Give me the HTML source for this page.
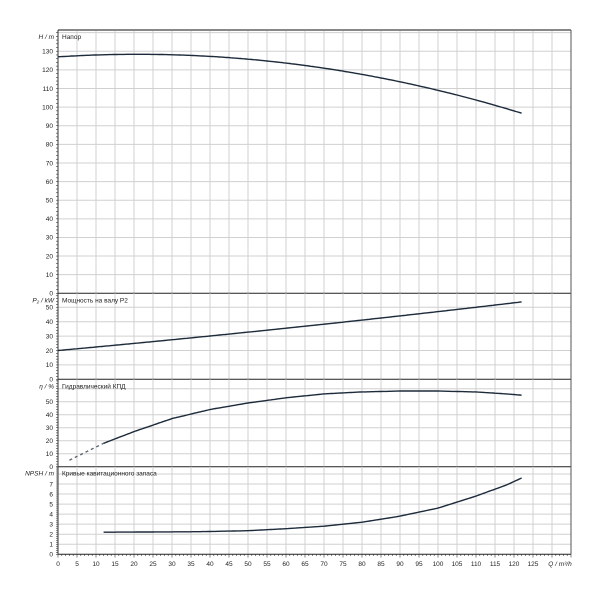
<!DOCTYPE html>
<html><head><meta charset="utf-8"><style>
body{margin:0;background:#fff;width:600px;height:600px;overflow:hidden}
svg text{font-family:"Liberation Sans",sans-serif;font-size:6.5px;fill:#222}
</style></head><body>
<svg id="s" width="600" height="600" xmlns="http://www.w3.org/2000/svg"></svg>
<script>
const s=document.getElementById('s');let h='';
const X0=58,XR=571,kx=3.8;const X=q=>X0+q*kx;
const panels=[
 {top:30,bot:293.3,k:1.862,step:10,max:130,lab:'H / m',title:'Напор'},
 {top:293.3,bot:379.3,k:1.44,step:10,max:50,lab:'P\u2082 / kW',title:'Мощность на валу P2'},
 {top:379.3,bot:466.7,k:1.3,step:10,max:50,lab:'η / %',title:'Гидравлический КПД'},
 {top:466.7,bot:554.3,k:10.04,step:1,max:7,lab:'NPSH / m',title:'Кривые кавитационного запаса'}];
for(const p of panels){
 for(let q=5;q<=135;q+=5){h+=`<line x1="${X(q)}" y1="${p.top}" x2="${X(q)}" y2="${p.bot}" stroke="#d0d0d0" stroke-width="1"/>`;}
 for(let v=p.step;v*p.k<p.bot-p.top-1;v+=p.step){const y=p.bot-v*p.k;h+=`<line x1="${X0}" y1="${y}" x2="${XR}" y2="${y}" stroke="#d0d0d0"/>`;}
 for(let v=0;v<=p.max;v+=p.step){const y=p.bot-v*p.k;h+=`<text x="53" y="${y+2.3}" text-anchor="end">${v}</text>`;}
 for(let v=0;v*p.k<p.bot-p.top;v+=p.step/5){const y=p.bot-v*p.k;h+=`<line x1="${X0-2}" y1="${y}" x2="${X0}" y2="${y}" stroke="#333" stroke-width="0.6"/>`;}
 h+=`<text x="${X0+4}" y="${p.top+9}">${p.title}</text><text x="${X0-4}" y="${p.top+9}" text-anchor="end" font-style="italic">${p.lab}</text>`;
 h+=`<line x1="${X0}" y1="${p.bot}" x2="${XR}" y2="${p.bot}" stroke="#222" stroke-width="1"/>`;
}
h+=`<line x1="${X0}" y1="30" x2="${XR}" y2="30" stroke="#888" stroke-width="2"/>`;
h+=`<line x1="${X0}" y1="30" x2="${X0}" y2="554.3" stroke="#333"/><line x1="${XR}" y1="30" x2="${XR}" y2="554.3" stroke="#555"/>`;
for(let q=0;q<=135;q+=1){h+=`<line x1="${X(q)}" y1="554.3" x2="${X(q)}" y2="${q%5?556:557.5}" stroke="#333" stroke-width="0.6"/>`;}
for(let q=0;q<=125;q+=5)h+=`<text x="${X(q)}" y="566" text-anchor="middle">${q}</text>`;
h+=`<text x="560" y="566" text-anchor="middle" font-style="italic">Q / m³/h</text>`;
function interp(pts,q){for(let i=0;i<pts.length-1;i++){if(q<=pts[i+1][0]){const a=pts[i],b=pts[i+1],t=(q-a[0])/(b[0]-a[0]);return a[1]+t*(b[1]-a[1]);}}return pts[pts.length-1][1];}
function path(f,p,q0,q1,extra){let d='';for(let q=q0;q<=q1+0.001;q+=0.5){d+=(d?'L':'M')+X(q).toFixed(1)+','+(p.bot-f(q)*p.k).toFixed(1);}h+=`<path d="${d}" fill="none" stroke="#1c2a3a" stroke-width="1.4" ${extra||''}/>`;}
path(q=>127+0.13*q-0.0031*q*q,panels[0],0,122);
path(q=>20+0.24*q+0.0003*q*q,panels[1],0,122);
const eta=[[3,5],[12,18],[20,27],[30,37],[40,44],[50,49],[60,53],[70,56],[80,57.5],[90,58.2],[100,58.2],[110,57.5],[118,56],[122,55]];
path(q=>interp(eta,q),panels[2],3,12,'stroke-dasharray="3,3" stroke-width="0.7" stroke-opacity="0.7"');
path(q=>interp(eta,q),panels[2],12,122);
const np=[[12,2.2],[37,2.25],[50,2.35],[60,2.55],[70,2.8],[80,3.2],[90,3.8],[100,4.6],[110,5.8],[118,6.9],[122,7.6]];
path(q=>interp(np,q),panels[3],12,122);
s.innerHTML=h;
</script>
</body></html>
